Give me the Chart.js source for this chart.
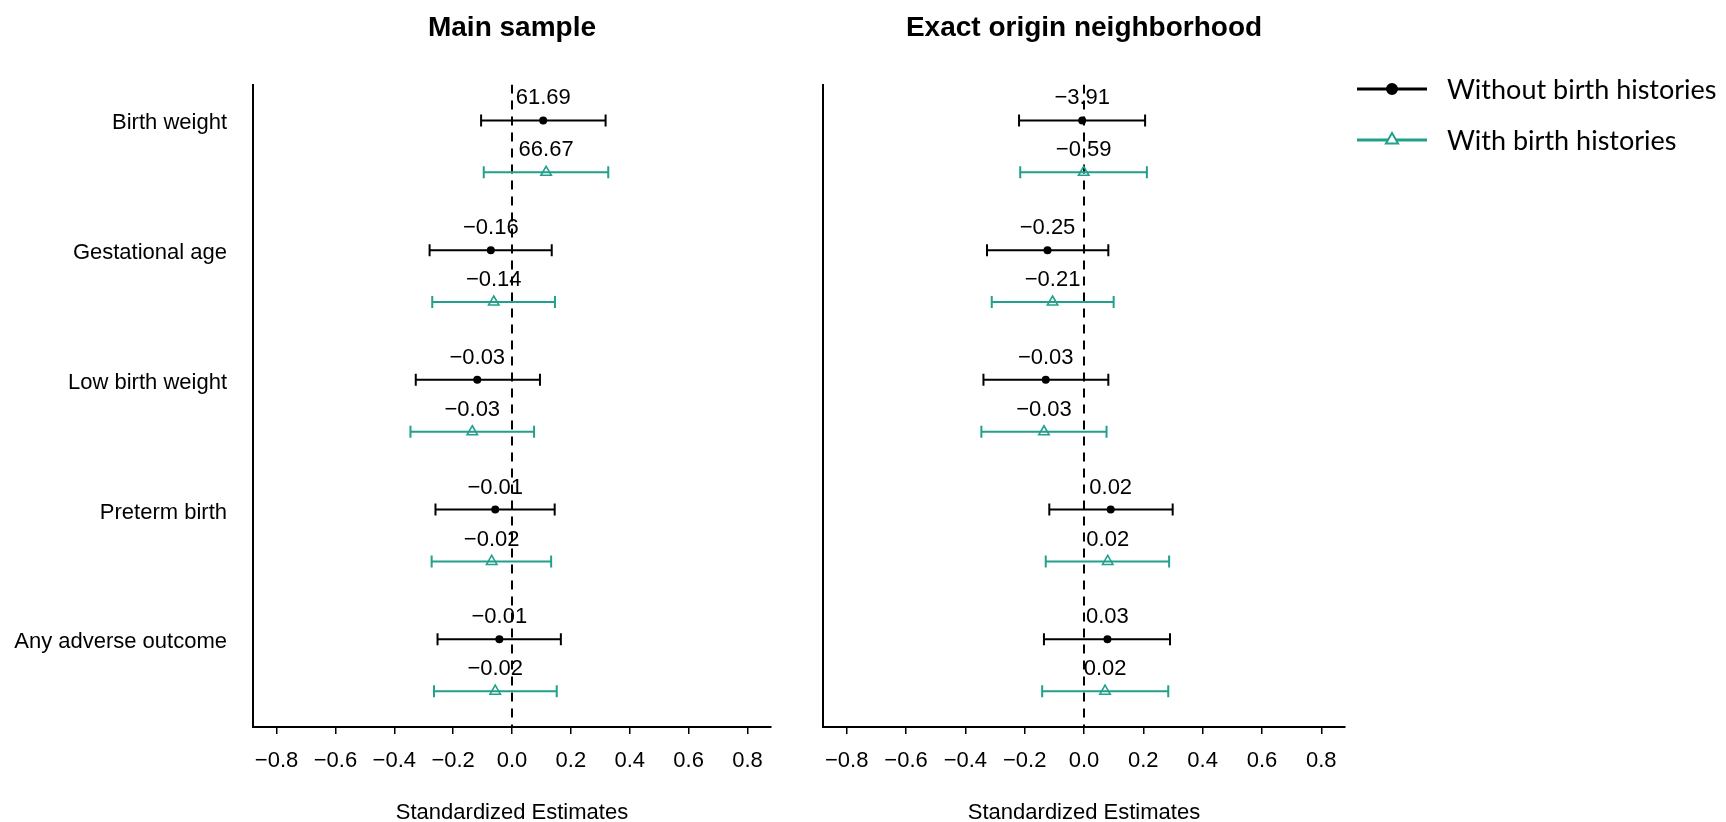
<!DOCTYPE html>
<html>
<head>
<meta charset="utf-8">
<script src="https://cdn.jsdelivr.net/npm/chart.js@4.4.1/dist/chart.umd.min.js"></script>
<style>
  html, body { margin: 0; background: #fff; }
  body { width: 1726px; height: 822px; position: relative; overflow: hidden; }
  .panel { position: absolute; top: 0; height: 822px; }
  #main { left: 0; width: 790px; }
  #exact { left: 790px; width: 936px; }
</style>
</head>
<body>
<div class="panel" id="main"><canvas id="mainChart"></canvas></div>
<div class="panel" id="exact"><canvas id="exactChart"></canvas></div>
<script>
const outcomes = ['Birth weight', 'Gestational age', 'Low birth weight', 'Preterm birth', 'Any adverse outcome']
const seriesNames = ['Without birth histories', 'With birth histories']
const xTicks = [-0.8, -0.6, -0.4, -0.2, 0, 0.2, 0.4, 0.6, 0.8]

// Main sample: standardized estimates with 95% CI, plus the unstandardized coefficient printed above
const mainWithoutEst = [0.106, -0.072, -0.118, -0.057, -0.043]
const mainWithoutLo = [-0.105, -0.280, -0.327, -0.260, -0.253]
const mainWithoutHi = [0.318, 0.135, 0.095, 0.145, 0.166]
const mainWithoutRaw = [61.69, -0.16, -0.03, -0.01, -0.01]

const mainWithEst = [0.116, -0.062, -0.135, -0.069, -0.057]
const mainWithLo = [-0.096, -0.271, -0.345, -0.273, -0.265]
const mainWithHi = [0.327, 0.146, 0.075, 0.133, 0.152]
const mainWithRaw = [66.67, -0.14, -0.03, -0.02, -0.02]

// Exact origin neighborhood
const exactWithoutEst = [-0.006, -0.123, -0.129, 0.090, 0.079]
const exactWithoutLo = [-0.219, -0.327, -0.339, -0.117, -0.135]
const exactWithoutHi = [0.206, 0.082, 0.082, 0.299, 0.290]
const exactWithoutRaw = [-3.91, -0.25, -0.03, 0.02, 0.03]

const exactWithEst = [-0.001, -0.106, -0.135, 0.080, 0.071]
const exactWithLo = [-0.215, -0.311, -0.346, -0.129, -0.141]
const exactWithHi = [0.212, 0.100, 0.076, 0.287, 0.284]
const exactWithRaw = [-0.59, -0.21, -0.03, 0.02, 0.02]

const FONT = '"Liberation Sans", Arial, Helvetica, sans-serif'
const BLACK = '#000000'
const TEAL = '#23a08c'

const X_MIN = -0.88
const X_MAX = 0.88
const ROW_STEP = 2.5 // gap between outcome groups, in row units
const Y_MIN = -0.69
const Y_MAX = (outcomes.length - 1) * ROW_STEP + 1 + 0.69

const rowY = (i, slot) => i * ROW_STEP + slot

const minus = '\u2212'
const fmt1 = v => (v < 0 ? minus : '') + Math.abs(v).toFixed(1)
const fmt2 = v => (v < 0 ? minus : '') + Math.abs(v).toFixed(2)

function intervalData(lo, hi, slot) {
  const out = []
  lo.forEach((l, i) => {
    const y = rowY(i, slot)
    out.push({ x: l, y }, { x: hi[i], y }, { x: null, y: null })
  })
  return out
}

function pointData(est, slot) {
  return est.map((v, i) => ({ x: v, y: rowY(i, slot) }))
}

function buildDatasets(s) {
  return [
    {
      label: seriesNames[0],
      data: pointData(s.withoutEst, 0),
      valueLabels: s.withoutRaw,
      pointStyle: 'circle',
      pointRadius: 4,
      pointBackgroundColor: BLACK,
      pointBorderColor: BLACK,
      pointBorderWidth: 0,
    },
    {
      label: seriesNames[1],
      data: pointData(s.withEst, 1),
      valueLabels: s.withRaw,
      pointStyle: 'triangle',
      pointRadius: 6,
      pointBackgroundColor: 'transparent',
      pointBorderColor: TEAL,
      pointBorderWidth: 1.6,
    },
    {
      data: intervalData(s.withoutLo, s.withoutHi, 0),
      showLine: true,
      borderColor: BLACK,
      borderWidth: 2,
      pointStyle: 'line',
      rotation: 90,
      pointRadius: 6,
      pointBorderColor: BLACK,
      pointBorderWidth: 2,
    },
    {
      data: intervalData(s.withLo, s.withHi, 1),
      showLine: true,
      borderColor: TEAL,
      borderWidth: 2,
      pointStyle: 'line',
      rotation: 90,
      pointRadius: 6,
      pointBorderColor: TEAL,
      pointBorderWidth: 2,
    },
    {
      // reference line at zero
      data: [{ x: 0, y: Y_MIN }, { x: 0, y: Y_MAX }],
      showLine: true,
      borderColor: BLACK,
      borderWidth: 2,
      borderDash: [9, 7],
      pointRadius: 0,
    },
  ]
}

// coefficient text above each estimate
const valueLabelPlugin = {
  id: 'valueLabels',
  afterDatasetsDraw(chart) {
    const { ctx } = chart
    ctx.save()
    ctx.font = `22px ${FONT}`
    ctx.fillStyle = BLACK
    ctx.textAlign = 'center'
    ctx.textBaseline = 'middle'
    chart.data.datasets.forEach((ds, di) => {
      if (!ds.valueLabels) return
      chart.getDatasetMeta(di).data.forEach((el, i) => {
        ctx.fillText(fmt2(ds.valueLabels[i]), el.x, el.y - 22)
      })
    })
    ctx.restore()
  },
}

// series key drawn to the right of the second panel
const seriesKeyPlugin = {
  id: 'seriesKey',
  afterDraw(chart, args, opts) {
    if (!opts.show) return
    const { ctx } = chart
    const items = [
      { text: seriesNames[0], color: BLACK, style: 'circle', radius: 5, fill: BLACK },
      { text: seriesNames[1], color: TEAL, style: 'triangle', radius: 7, fill: '#ffffff' },
    ]
    ctx.save()
    items.forEach((item, k) => {
      const y = opts.top + k * opts.rowGap
      ctx.strokeStyle = item.color
      ctx.lineWidth = 3
      ctx.beginPath()
      ctx.moveTo(opts.left, y)
      ctx.lineTo(opts.left + opts.lineLength, y)
      ctx.stroke()
      ctx.fillStyle = item.fill
      ctx.lineWidth = 2
      Chart.helpers.drawPoint(ctx, { pointStyle: item.style, radius: item.radius, borderWidth: 2, rotation: 0 },
        opts.left + opts.lineLength / 2, y)
      ctx.fillStyle = BLACK
      ctx.font = `${opts.fontSize}px ${opts.fontFamily}`
      ctx.textAlign = 'left'
      ctx.textBaseline = 'middle'
      ctx.fillText(item.text, opts.textX, y + 1)
    })
    ctx.restore()
  },
}

function buildScales(showLabels, yWidth) {
  return {
    x: {
      type: 'linear',
      min: X_MIN,
      max: X_MAX,
      afterBuildTicks: s => { s.ticks = xTicks.map(v => ({ value: v })) },
      afterFit: s => { s.height = 95 },
      grid: { display: true, drawOnChartArea: false, drawTicks: true, tickLength: 7, color: BLACK, lineWidth: 1.5 },
      border: { display: true, color: BLACK, width: 2 },
      ticks: {
        color: BLACK,
        font: { family: FONT, size: 22 },
        padding: 14,
        autoSkip: false,
        maxRotation: 0,
        callback: v => fmt1(v),
      },
      title: {
        display: true,
        text: 'Standardized Estimates',
        color: BLACK,
        font: { family: FONT, size: 22, lineHeight: 0.8 },
        padding: 0,
      },
    },
    y: {
      type: 'linear',
      reverse: true,
      min: Y_MIN,
      max: Y_MAX,
      afterBuildTicks: s => { s.ticks = showLabels ? outcomes.map((_, i) => ({ value: rowY(i, 0) })) : [] },
      afterFit: s => { s.width = yWidth },
      grid: { display: false },
      border: { display: true, color: BLACK, width: 2 },
      ticks: {
        display: showLabels,
        color: BLACK,
        font: { family: FONT, size: 22 },
        padding: 18,
        labelOffset: 3,
        callback: (v, i) => outcomes[i],
      },
    },
  }
}

function createPanel(el, title, s, opts) {
  return new Chart(el.getContext('2d'), {
    type: 'scatter',
    data: { datasets: buildDatasets(s) },
    options: {
      responsive: true,
      maintainAspectRatio: false,
      animation: false,
      events: [],
      layout: { padding: { left: 0, top: 0, bottom: 0, right: opts.padRight } },
      scales: buildScales(opts.showLabels, opts.yWidth),
      plugins: {
        legend: { display: false },
        tooltip: { enabled: false },
        title: {
          display: true,
          text: title,
          fullSize: false,
          color: BLACK,
          font: { family: FONT, size: 28, weight: 'bold', lineHeight: 1.2 },
          padding: { top: 11, bottom: 40 },
        },
        seriesKey: opts.key || { show: false },
      },
    },
    plugins: [valueLabelPlugin, seriesKeyPlugin],
  })
}

createPanel(document.getElementById('mainChart'), 'Main sample', {
  withoutEst: mainWithoutEst, withoutLo: mainWithoutLo, withoutHi: mainWithoutHi, withoutRaw: mainWithoutRaw,
  withEst: mainWithEst, withLo: mainWithLo, withHi: mainWithHi, withRaw: mainWithRaw,
}, { showLabels: true, yWidth: 253, padRight: 19 })

createPanel(document.getElementById('exactChart'), 'Exact origin neighborhood', {
  withoutEst: exactWithoutEst, withoutLo: exactWithoutLo, withoutHi: exactWithoutHi, withoutRaw: exactWithoutRaw,
  withEst: exactWithEst, withLo: exactWithLo, withHi: exactWithHi, withRaw: exactWithRaw,
}, {
  showLabels: false, yWidth: 33, padRight: 381,
  key: { show: true, left: 567, lineLength: 70, top: 89, rowGap: 51, textX: 657, fontSize: 27, fontFamily: 'Lato, "Open Sans", sans-serif' },
})
</script>
</body>
</html>
